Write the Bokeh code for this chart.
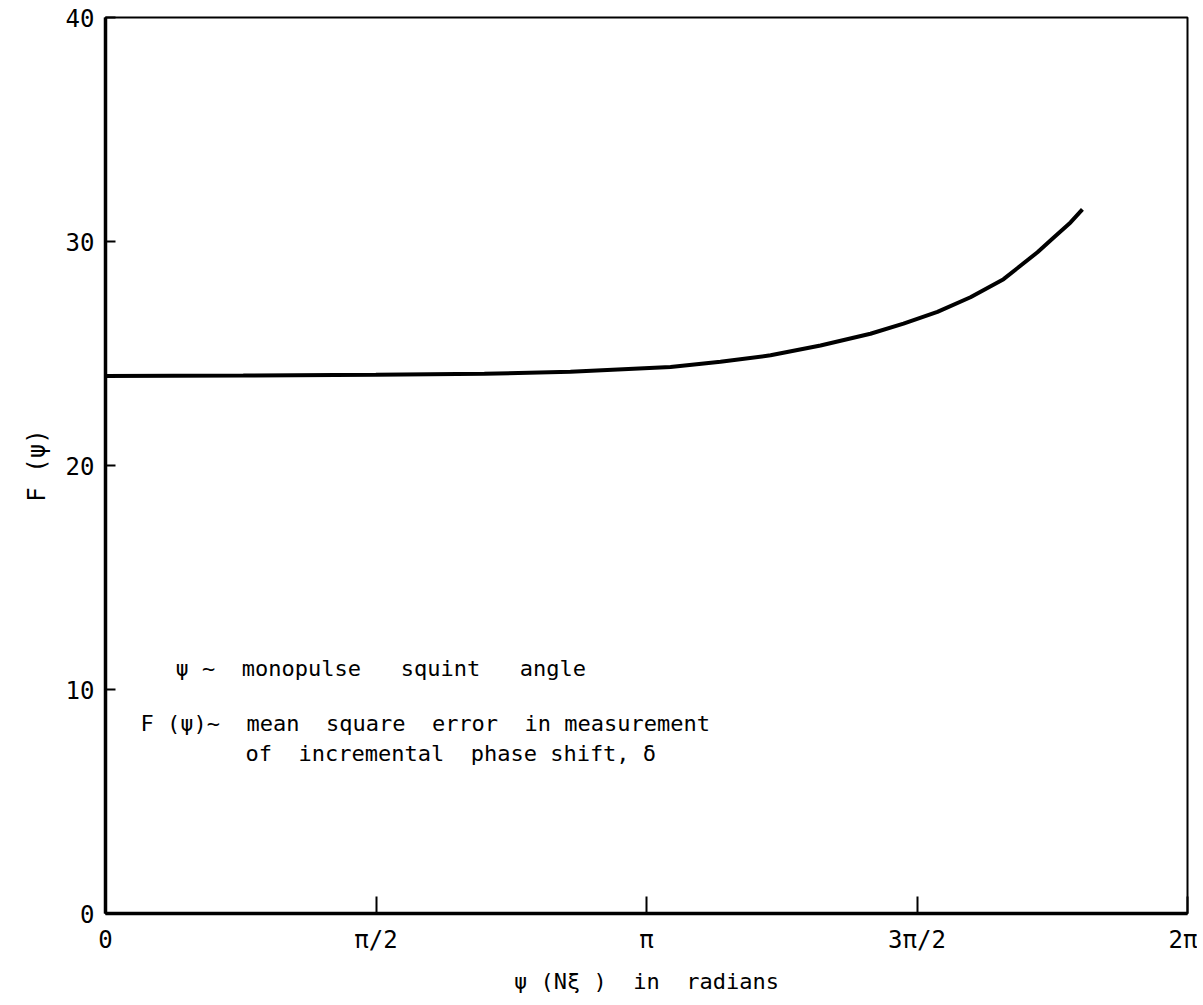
import numpy as np
from bokeh.plotting import figure
from bokeh.models import Label, FixedTicker, Range1d
from bokeh.embed import file_html
from bokeh.resources import INLINE

# data
psi = [0.0, 0.8, 1.57, 2.2, 2.7, 3.281, 3.571, 3.862, 4.152, 4.442, 4.634,
       4.831, 5.023, 5.215, 5.412, 5.505, 5.604, 5.673]
F = [24.0, 24.02, 24.05, 24.1, 24.18, 24.4, 24.63, 24.92, 25.36, 25.88, 26.33,
     26.86, 27.51, 28.32, 29.52, 30.17, 30.85, 31.43]

x_ticks = [0, np.pi / 2, np.pi, 3 * np.pi / 2, 2 * np.pi]
x_tick_labels = ["0", "π/2", "π", "3π/2", "2π"]
y_ticks = [0, 10, 20, 30, 40]

FONT = "DejaVu Sans Mono"
NB = "\u00a0"


def sp(s):
    # keep runs of spaces (SVG collapses ordinary whitespace)
    return s.replace(" ", NB)


p = figure(width=1197, height=996, output_backend="svg", toolbar_location=None,
           x_range=Range1d(0, 2 * np.pi), y_range=Range1d(0, 40),
           min_border_left=105, min_border_top=17, min_border_right=10, min_border_bottom=78)
p.background_fill_color = "white"
p.border_fill_color = "white"
p.grid.visible = False
p.outline_line_color = "black"
p.outline_line_width = 2

p.line(psi, F, line_color="black", line_width=4)

p.xaxis.ticker = FixedTicker(ticks=x_ticks)
p.xaxis.major_label_overrides = {t: l for t, l in zip(x_ticks, x_tick_labels)}
p.yaxis.ticker = FixedTicker(ticks=y_ticks)

for ax in (p.xaxis[0], p.yaxis[0]):
    ax.axis_line_width = 3.5
    ax.axis_line_color = "black"
    ax.major_tick_line_color = "black"
    ax.major_tick_line_width = 2
    ax.minor_tick_line_color = None
    ax.major_tick_out = 0
    ax.major_label_text_font = FONT
    ax.major_label_text_font_size = "24px"
    ax.major_label_text_color = "black"
    ax.axis_label_text_font = FONT
    ax.axis_label_text_font_style = "normal"
    ax.axis_label_text_font_size = "22px"
    ax.axis_label_text_color = "black"

p.xaxis.major_tick_in = 17
p.yaxis.major_tick_in = 10
p.xaxis.major_label_standoff = 12
p.yaxis.major_label_standoff = 11
p.xaxis.axis_label = sp("ψ (Nξ )  in  radians")
p.xaxis.axis_label_standoff = 12
p.yaxis.axis_label = "F (ψ)"
p.yaxis.axis_label_text_font_size = "24px"
p.yaxis.axis_label_standoff = 12

lines = [
    (0.4065, 10.92, "ψ ~  monopulse   squint   angle"),
    (0.2032, 8.48, "F (ψ)~  mean  square  error  in measurement"),
    (0.813, 7.15, "of  incremental  phase shift, δ"),
]
for x, y, t in lines:
    p.add_layout(Label(x=x, y=y, text=sp(t), text_font=FONT, text_font_size="22px",
                       text_color="black", text_baseline="middle", text_align="left"))

open("out.html", "w").write(file_html(p, INLINE))
